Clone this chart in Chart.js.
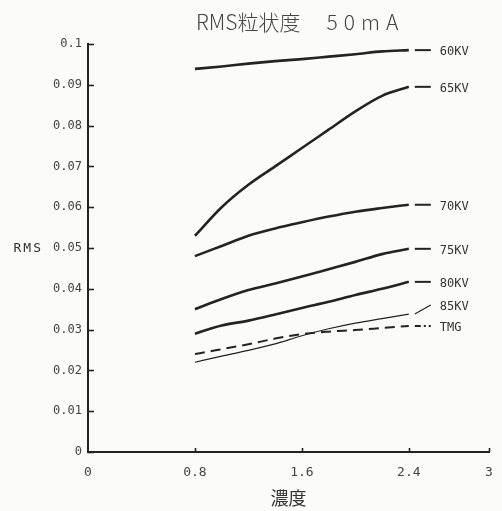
<!DOCTYPE html>
<html>
<head>
<meta charset="utf-8">
<script src="https://cdn.jsdelivr.net/npm/chart.js@4"></script>
<style>
  html, body { margin: 0; padding: 0; background: #fbfbf9; overflow: hidden; }
  canvas { display: block; }
</style>
</head>
<body>
<canvas id="rms" width="502" height="511"></canvas>
<script>
// density values (x) where each curve was sampled
const density = [0.8, 1.0, 1.2, 1.4, 1.6, 1.8, 2.0, 2.2, 2.4];

const kv60 = [0.0939, 0.0945, 0.0952, 0.0958, 0.0963, 0.0969, 0.0975, 0.0982, 0.0985];
const kv65 = [0.0530, 0.0600, 0.0655, 0.0700, 0.0745, 0.0790, 0.0835, 0.0873, 0.0895];
const kv70 = [0.0480, 0.0505, 0.0530, 0.0548, 0.0563, 0.0577, 0.0589, 0.0598, 0.0606];
const kv75 = [0.0350, 0.0375, 0.0397, 0.0413, 0.0430, 0.0448, 0.0466, 0.0485, 0.0498];
const kv80 = [0.0290, 0.0310, 0.0322, 0.0337, 0.0353, 0.0368, 0.0385, 0.0400, 0.0417];
const kv85 = [0.0220, 0.0235, 0.0249, 0.0265, 0.0285, 0.0302, 0.0316, 0.0327, 0.0338];
const tmg  = [0.0240, 0.0252, 0.0264, 0.0278, 0.0289, 0.0295, 0.0299, 0.0304, 0.0309];

const seriesNames = ['60KV', '65KV', '70KV', '75KV', '80KV', '85KV', 'TMG'];
const xTicks = [0, 0.8, 1.6, 2.4, 3];

const allSeries = [kv60, kv65, kv70, kv75, kv80, kv85, tmg];
const ink = '#232323';

function lineStyle(i) {
    if (seriesNames[i] === 'TMG') return { borderWidth: 2, borderDash: [10, 6] };
    if (seriesNames[i] === '85KV') return { borderWidth: 1.2, borderDash: [] };
    return { borderWidth: 2.6, borderDash: [] };
}

const datasets = allSeries.map((vals, i) => Object.assign({
    label: seriesNames[i],
    data: vals.map((v, k) => ({ x: density[k], y: v })),
    borderColor: ink,
    pointRadius: 0,
    fill: false,
    cubicInterpolationMode: 'monotone'
}, lineStyle(i)));

// plotter-style extras: inner ticks, end labels, title, RMS label
const plotterExtras = {
    id: 'plotterExtras',
    afterDraw(chart) {
        const { ctx, chartArea, scales: { x, y } } = chart;
        ctx.save();
        ctx.strokeStyle = ink;
        ctx.lineWidth = 1.6;

        y.ticks.forEach(t => {
            const py = Math.round(y.getPixelForValue(t.value)) + 0.5;
            ctx.beginPath();
            ctx.moveTo(chartArea.left, py);
            ctx.lineTo(chartArea.left + 6, py);
            ctx.stroke();
        });
        xTicks.slice(1).forEach(v => {
            const px = Math.round(x.getPixelForValue(v)) + 0.5;
            ctx.beginPath();
            ctx.moveTo(px, chartArea.bottom);
            ctx.lineTo(px, chartArea.bottom - 4);
            ctx.stroke();
        });

        // end dashes + labels
        ctx.font = '12px "DejaVu Sans Mono"';
        ctx.fillStyle = '#333';
        ctx.textBaseline = 'middle';
        const lastX = density[density.length - 1];
        allSeries.forEach((vals, i) => {
            const name = seriesNames[i];
            const last = vals[vals.length - 1];
            const x0 = x.getPixelForValue(lastX) + 6;
            const x1 = x0 + 16;
            const y0 = y.getPixelForValue(last);
            const y1 = name === '85KV' ? y0 - 9 : y0;
            ctx.lineWidth = name === '85KV' ? 1.2 : 2;
            ctx.setLineDash(name === 'TMG' ? [6, 3, 2, 3] : []);
            ctx.beginPath();
            ctx.moveTo(x0, y0);
            ctx.lineTo(x1, y1);
            ctx.stroke();
            ctx.setLineDash([]);
            ctx.fillText(name, x1 + 9, y1 + 2);
        });

        ctx.font = '13px "DejaVu Sans Mono"';
        ctx.textAlign = 'right';
        ctx.letterSpacing = '2px';
        ctx.fillText('RMS', chartArea.left - 45, y.getPixelForValue(0.05) + 1);
        ctx.letterSpacing = '0px';

        // title
        const cx = (chartArea.left + chartArea.right) / 2;
        ctx.fillStyle = '#444';
        ctx.font = '300 21px "Noto Sans CJK JP"';
        ctx.textAlign = 'right';
        ctx.fillText('RMS粒状度', cx + 12, 22);
        ctx.textAlign = 'left';
        ctx.letterSpacing = '6px';
        ctx.fillText('50mA', cx + 38, 22);
        ctx.restore();
    }
};

new Chart(document.getElementById('rms'), {
    type: 'line',
    data: { datasets },
    options: {
        responsive: false,
        animation: false,
        layout: { padding: { top: 44, right: 13, left: 0, bottom: 0 } },
        plugins: { legend: { display: false }, tooltip: { enabled: false } },
        scales: {
            x: {
                type: 'linear',
                min: 0,
                max: 3,
                afterBuildTicks: s => { s.ticks = xTicks.map(v => ({ value: v })); },
                afterFit: s => { s.height = 59; s.paddingLeft = 0; s.paddingRight = 0; },
                grid: { display: false, drawTicks: false },
                border: { display: true, color: ink, width: 2 },
                ticks: {
                    padding: 13,
                    color: '#444',
                    font: { family: 'DejaVu Sans Mono', size: 13 },
                    callback: v => String(v)
                },
                title: {
                    display: true,
                    text: '濃度',
                    color: '#333',
                    font: { family: 'Noto Sans CJK JP', size: 18 },
                    padding: { top: 2, bottom: 2 }
                }
            },
            y: {
                min: 0,
                max: 0.1,
                afterFit: s => { s.width = 88; },
                grid: { display: false, drawTicks: false },
                border: { display: true, color: ink, width: 2 },
                ticks: {
                    stepSize: 0.01,
                    padding: 6,
                    color: '#444',
                    font: { family: 'DejaVu Sans Mono', size: 12 },
                    callback: v => String(Number(v.toFixed(2)))
                }
            }
        }
    },
    plugins: [plotterExtras]
});
</script>
</body>
</html>
